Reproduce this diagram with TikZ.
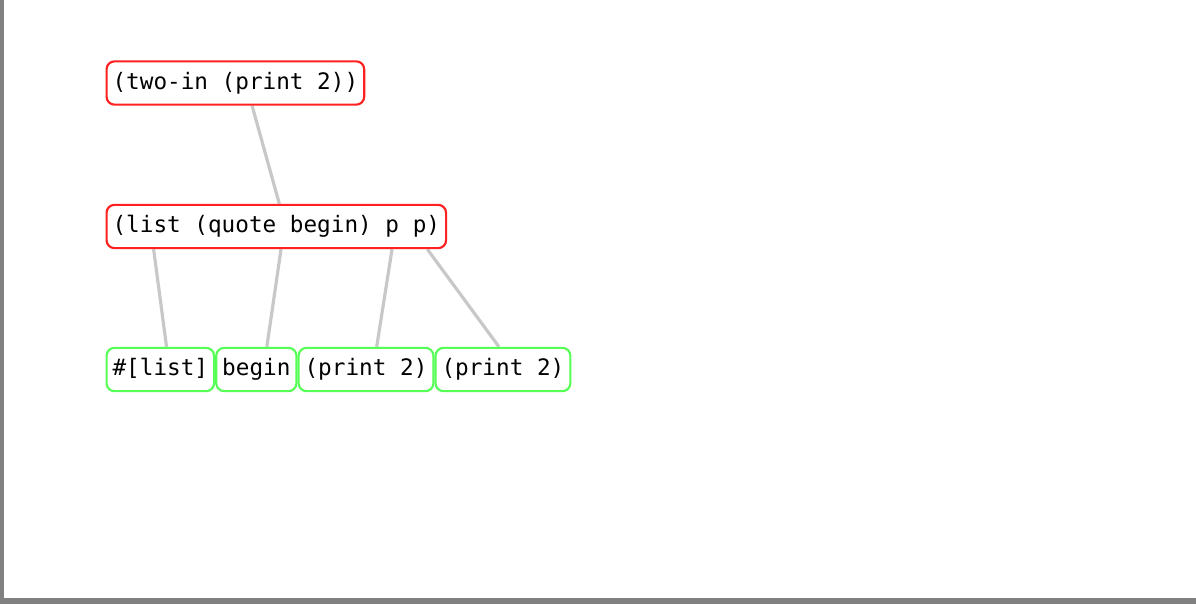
\documentclass[tikz,border=0pt]{standalone}
\usepackage{fontspec}
\setmonofont{DejaVu Sans Mono}
\usepackage{tikz}
\usetikzlibrary{positioning,calc,backgrounds}
\definecolor{exprred}{HTML}{FF2020}
\definecolor{leafgreen}{HTML}{55FF55}
\definecolor{linkgray}{HTML}{C8C8C8}
\definecolor{framegray}{HTML}{808080}
\tikzset{
  sexp/.style={rounded corners=6pt, line width=1.6pt, fill=white,
    font=\fontsize{17}{20}\selectfont\ttfamily,
    inner xsep=4.5pt, inner ysep=0pt, text height=12.5pt, text depth=3.5pt,
    minimum height=32.5pt},
  expr/.style={sexp, draw=exprred},
  leaf/.style={sexp, draw=leafgreen},
  link/.style={draw=linkgray, line width=2.4pt}
}

\begin{document}
\begin{tikzpicture}[x=0.75pt, y=-0.75pt, node distance=0pt]
  \useasboundingbox (0,0) rectangle (1196,604);
  % window edge
  \fill[framegray] (0,0) rectangle (4,604);
  \fill[framegray] (0,598) rectangle (1196,604);

  \node[expr, anchor=west] (twoin) at (105.5,83) {(two-in (print 2))};
  \node[expr, anchor=west] (listq) at (105.5,226.5) {(list (quote begin) p p)};

  \node[leaf, anchor=west] (hashlist) at (105.5,369.5) {\#[list]};
  \node[leaf, right=of hashlist] (beginsym) {begin};
  \node[leaf, right=of beginsym] (printa) {(print 2)};
  \node[leaf, right=of printa] (printb) {(print 2)};

  \begin{scope}[on background layer]
    \draw[link] ($(twoin.south)+(16.7,0)$) -- ($(listq.north)+(3,0)$);
    \draw[link] ($(listq.south)+(-122.7,0)$) -- ($(hashlist.north)+(6.2,0)$);
    \draw[link] ($(listq.south)+(4.7,0)$) -- ($(beginsym.north)+(10.5,0)$);
    \draw[link] ($(listq.south)+(115.7,0)$) -- ($(printa.north)+(10.7,0)$);
    \draw[link] ($(listq.south)+(151,0)$) -- ($(printb.north)+(-4,0)$);
  \end{scope}
\end{tikzpicture}
\end{document}
